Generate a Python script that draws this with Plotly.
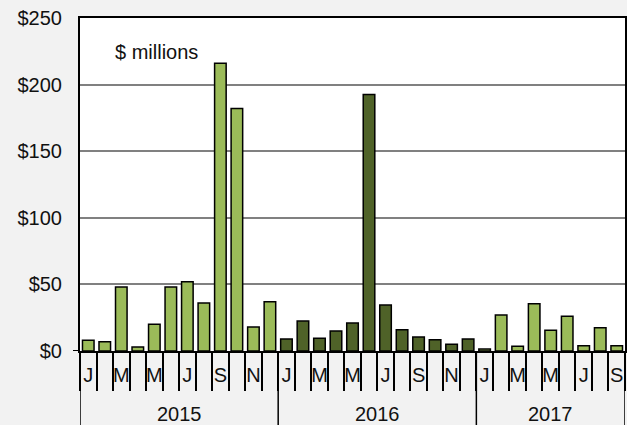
import plotly.graph_objects as go

# ---- data ----
years = [2015] * 12 + [2016] * 12 + [2017] * 9
month_letters = ["J", "F", "M", "A", "M", "J", "J", "A", "S", "O", "N", "D"]
month_names = ["Jan", "Feb", "Mar", "Apr", "May", "Jun", "Jul", "Aug", "Sep", "Oct", "Nov", "Dec"]
values = [
    8, 7, 48, 3, 20, 48, 52, 36, 216, 182, 18, 37,      # 2015
    9, 22.5, 9.5, 15, 21, 192.5, 34.5, 16, 10.5, 8.5, 5, 9,  # 2016
    1.5, 27, 3.5, 35.5, 15.5, 26, 4, 17.5, 4,           # 2017
]
year_labels = ["2015", "2016", "2017"]
y_ticks = [0, 50, 100, 150, 200, 250]

# ---- styles ----
LIGHT = "#9BBB59"
DARK = "#4F6228"
year_color = {2015: LIGHT, 2016: DARK, 2017: LIGHT}
FONT = "Liberation Sans, Arial, Helvetica, sans-serif"

month_idx = []
counter = {}
for y in years:
    counter[y] = counter.get(y, 0) + 1
    month_idx.append(counter[y] - 1)

cats = [f"{month_names[m]} {y}" for m, y in zip(month_idx, years)]
ticktext = [month_letters[m] if m % 2 == 0 else "" for m in month_idx]
colors = [year_color[y] for y in years]

fig = go.Figure()
fig.add_trace(go.Bar(
    x=cats, y=values,
    marker=dict(color=colors, line=dict(color="black", width=1.5)),
    hoverinfo="x+y",
))

W, H = 627, 425
ml, mr, mt, mb = 80, 2, 18, 74
plot_h = H - mt - mb

fig.update_layout(
    width=W, height=H,
    margin=dict(l=ml, r=mr, t=mt, b=mb, pad=0, autoexpand=False),
    paper_bgcolor="#F2F2F2",
    plot_bgcolor="white",
    bargap=0.3,
    showlegend=False,
    font=dict(family=FONT, size=20, color="#111111"),
)

fig.update_xaxes(
    type="category", automargin=False,
    categoryorder="array", categoryarray=cats,
    tickmode="array", tickvals=cats, ticktext=ticktext,
    tickson="boundaries", tickangle=0,
    ticks="outside", ticklen=38, tickwidth=2, tickcolor="black",
    ticklabelstandoff=5,
    tickfont=dict(size=20, family=FONT, color="#111111"),
    showline=True, linecolor="black", linewidth=2, mirror=True,
    showgrid=False,
    range=[-0.5, len(cats) - 0.5],
)
fig.update_yaxes(
    range=[0, 250], automargin=False,
    tickvals=y_ticks, ticktext=[f"${v}" for v in y_ticks],
    ticks="", ticklabelstandoff=12,
    tickfont=dict(size=20, family=FONT, color="#111111"),
    showgrid=True, gridcolor="#808080", gridwidth=1.6,
    zeroline=False,
    showline=True, linecolor="black", linewidth=2, mirror=True,
)

# year separators and labels
bottom = -mb / plot_h
boundaries = [-0.5]
start = 0
for yl in year_labels:
    n = sum(1 for y in years if str(y) == yl)
    end = start + n
    boundaries.append(end - 0.5)
    fig.add_annotation(
        x=(start + end - 1) / 2, xref="x",
        y=-(63 / plot_h), yref="paper", yanchor="middle",
        text=yl, showarrow=False, font=dict(size=20, family=FONT, color="#111111"),
    )
    start = end
for b in boundaries:
    fig.add_shape(type="line", xref="x", yref="paper", x0=b, x1=b, y0=0, y1=bottom,
                  line=dict(color="black", width=1.5))

# small tick at $0
fig.add_shape(type="line", xref="paper", yref="y", x0=-7 / (W - ml - mr), x1=0, y0=0, y1=0,
              line=dict(color="black", width=2))

fig.add_annotation(
    x=(113 - ml) / (W - ml - mr), xref="paper", xanchor="left",
    y=(H - mb - 52) / plot_h, yref="paper", yanchor="middle",
    text="$ millions", showarrow=False, font=dict(size=20, family=FONT, color="#111111"),
)

fig.write_html(
    "out.html",
    config={"displayModeBar": False},
    post_script="document.body.style.margin='0';document.body.style.overflow='hidden';",
)
